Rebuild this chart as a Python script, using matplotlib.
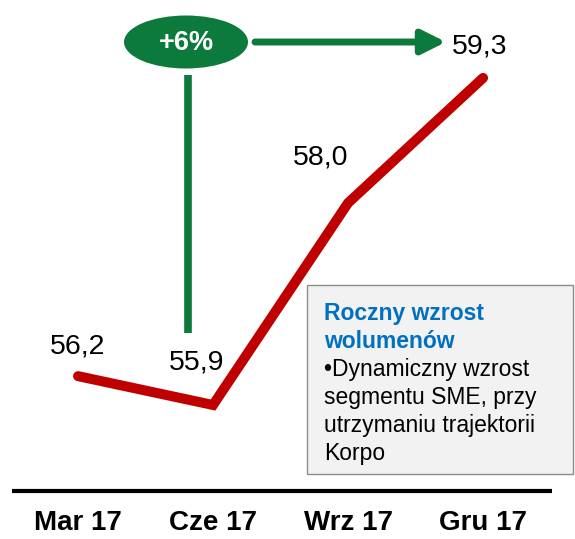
import matplotlib.pyplot as plt
import matplotlib.patches as mpatches

quarters = ['Mar 17', 'Cze 17', 'Wrz 17', 'Gru 17']
volumes = [56.2, 55.9, 58.0, 59.3]
value_labels = ['56,2', '55,9', '58,0', '59,3']
# label offsets in pixels (dx, dy up)
label_offsets = [(0, 30), (-16, 42), (-27, 45), (-3, 31)]
growth_label = '+6%'
box_title = ['Roczny wzrost', 'wolumenów']
box_body = ['•Dynamiczny wzrost', 'segmentu SME, przy', 'utrzymaniu trajektorii', 'Korpo']

W, H = 575, 539
RED = '#C00000'
GREEN = '#0B7A3B'
BLUE = '#0070C0'
PT = 72 / 100.0  # pixels -> points

plt.rcParams['font.family'] = ['Liberation Sans', 'DejaVu Sans']

fig = plt.figure(figsize=(W / 100, H / 100), dpi=100)
ax = fig.add_axes([0, 0, 1, 1])
ax.set_xlim(-0.578, 3.681)
ax.set_ylim(54.507, 60.11)
ax.axis('off')


def px(x, y):
    return (x / W, 1 - y / H)


x_idx = list(range(len(quarters)))
ax.plot(x_idx, volumes, color=RED, lw=7.2, solid_capstyle='round',
        solid_joinstyle='miter', zorder=3)

for i, (v, lab) in enumerate(zip(volumes, value_labels)):
    dx, dy = label_offsets[i]
    ax.annotate(lab, (i, v), xytext=(dx * PT, dy * PT), textcoords='offset points',
                ha='center', va='center', fontsize=20.5, color='black')

# category labels
for i, q in enumerate(quarters):
    ax.text(i, px(0, 523)[1], q, transform=ax.get_xaxis_transform(),
            ha='center', va='center', fontsize=20, fontweight='bold')

# baseline
ax.plot([px(12, 0)[0], px(552, 0)[0]], [px(0, 491)[1]] * 2, color='black', lw=3,
        transform=ax.transAxes, solid_capstyle='butt')

# growth ellipse
ell = mpatches.Ellipse(px(186, 42), 124 / W, 53 / H, transform=ax.transAxes,
                       facecolor=GREEN, edgecolor='none', zorder=4)
ax.add_patch(ell)
ax.text(*px(186, 43), growth_label, transform=ax.transAxes, ha='center', va='center',
        fontsize=19.5, fontweight='bold', color='white', zorder=5)

# vertical green line
ax.plot([px(188, 0)[0]] * 2, [px(0, 75)[1], px(0, 333)[1]], color=GREEN, lw=5.5,
        transform=ax.transAxes, solid_capstyle='butt')

# horizontal green arrow
arr = mpatches.FancyArrowPatch(px(255, 42), px(446, 42), transform=ax.transAxes,
                               arrowstyle=mpatches.ArrowStyle('-|>', head_length=14.4, head_width=7.2),
                               mutation_scale=1, color=GREEN, lw=5, shrinkA=0, shrinkB=0)
ax.add_patch(arr)

# comment box
box = mpatches.Rectangle(px(307, 474), 266 / W, 189 / H, transform=ax.transAxes,
                         facecolor='#F2F2F2', edgecolor='#8C8C8C', lw=1, zorder=2)
ax.add_patch(box)
lines = [(t, True) for t in box_title] + [(t, False) for t in box_body]
for k, (t, is_title) in enumerate(lines):
    ax.text(*px(324, 320 + 28 * k), t, transform=ax.transAxes, ha='left', va='baseline',
            fontsize=16.5, fontweight='bold' if is_title else 'normal',
            color=BLUE if is_title else 'black', zorder=3)

fig.savefig('out.png', dpi=100)
